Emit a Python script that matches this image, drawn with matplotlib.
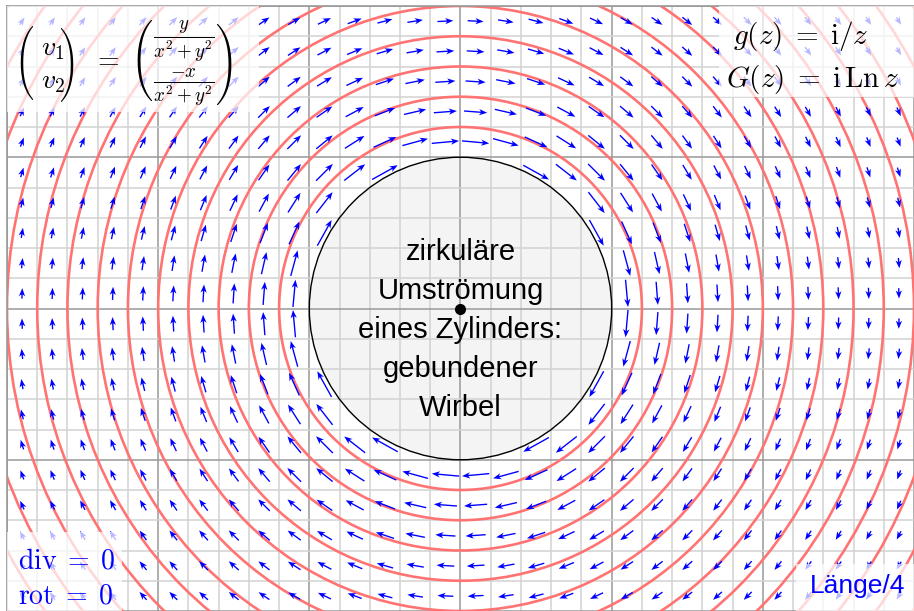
import numpy as np
import matplotlib.pyplot as plt
import matplotlib.transforms as mtransforms
from matplotlib.patches import Circle, Rectangle

plt.rcParams['mathtext.fontset'] = 'cm'

# arrow grid (cell centres, odd tenths)
arrow_x = np.round(np.arange(-2.9, 3.0, 0.2), 1)
arrow_y = np.round(np.arange(-1.9, 2.0, 0.2), 1)
# streamlines Im G = ln r = const drawn as circles
stream_r = [1.2, 1.4, 1.6, 1.8, 2.0, 2.2, 2.4, 2.6, 2.8, 3.0, 3.2, 3.4, 3.6]
cyl_r = 1.0
arrow_scale = 5  # drawn length = |v| / 5

center_text = "zirkuläre\nUmströmung\neines Zylinders:\ngebundener\nWirbel"
frac_a = r'\frac{y}{x^2+y^2}'
frac_b = r'\frac{-x}{x^2+y^2}'


def field(x, y):
    r2 = x**2 + y**2
    return y / r2, -x / r2


W, H = 914, 611
fig = plt.figure(figsize=(W / 100, H / 100), dpi=100)
ax = fig.add_axes([7 / W, 0, 907 / W, 605 / H])
ax.set_xlim(-3, 3)
ax.set_ylim(-2, 2)
# pixel coords measured from the top left corner
pix = mtransforms.Affine2D().scale(1, -1).translate(0, H)
renderer = fig.canvas.get_renderer()

# grid
ax.set_xticks(np.arange(-3, 4, 1))
ax.set_yticks(np.arange(-2, 3, 1))
ax.set_xticks(np.arange(-3, 3.01, 0.2), minor=True)
ax.set_yticks(np.arange(-2, 2.01, 0.2), minor=True)
ax.tick_params(which='both', length=0, labelbottom=False, labelleft=False)
ax.set_axisbelow(True)
ax.grid(which='minor', color='#d2d2d2', lw=1.1)
ax.grid(which='major', color='#999999', lw=1.1)
for s in ['right', 'bottom']:
    ax.spines[s].set_visible(False)
for s in ['left', 'top']:
    ax.spines[s].set_color('#999999')
    ax.spines[s].set_linewidth(1.2)

# cylinder
ax.add_patch(Circle((0, 0), cyl_r, facecolor='#f4f4f4', edgecolor='none', zorder=0.3))
ax.add_patch(Circle((0, 0), cyl_r, facecolor='none', edgecolor='black', lw=1.0, zorder=2.5))

# streamlines
for r in stream_r:
    ax.add_patch(Circle((0, 0), r, facecolor='none', edgecolor='#ff7373', lw=1.9, zorder=2))

# vector field
X, Y = np.meshgrid(arrow_x, arrow_y)
outside = X**2 + Y**2 > cyl_r**2
U, V = field(X[outside], Y[outside])
ax.quiver(X[outside], Y[outside], U, V, pivot='middle', angles='xy',
          scale_units='xy', scale=arrow_scale, color='#0000ff', width=0.0015,
          headwidth=4.6, headlength=6, headaxislength=4.6, zorder=3)

ax.plot(0, 0, 'o', color='black', ms=7, zorder=5)

# translucent boxes behind labels
boxes = [(-3, 1.30, 1.67, 0.7), (1.71, 1.40, 1.29, 0.6),
         (-3, -2, 0.76, 0.52), (2.22, -2, 0.78, 0.31)]
for bx, by, bw, bh in boxes:
    ax.add_patch(Rectangle((bx, by), bw, bh, facecolor='white', alpha=0.72,
                           edgecolor='none', zorder=4))

ax.text(0.0, -0.14, center_text, ha='center', va='center', fontsize=21,
        family='Liberation Sans', linespacing=1.5, zorder=5)


# ---- top left formula, put together in pixel coordinates ----
# narrow stand-in with the same height, only used to size the delimiters
stack = r'\genfrac{}{}{0}{0}{\frac{y}{y^2}}{\frac{x}{y^2}}'


def big_paren(xe, yc, height, side):
    # a mathtext sized "(" ; the right one is the same glyph turned by 180 deg
    s = r'$\left(' + stack + r'\right.$'
    t = fig.text(0, 0, s, fontsize=20, transform=pix)
    fs = 20 * height / t.get_window_extent(renderer).height
    t.set_fontsize(fs)
    bare = fig.text(0, 0, '$' + stack + '$', fontsize=fs, transform=pix)
    pw = t.get_window_extent(renderer).width - bare.get_window_extent(renderer).width
    bare.remove()
    t.set_position((xe, yc))
    t.set_ha('left')
    t.set_va('center')
    t.set_rotation_mode('anchor')
    if side == 'l':
        clip = mtransforms.Bbox.from_extents(xe - 2, 0, xe + pw, H)
    else:
        t.set_rotation(180)
        clip = mtransforms.Bbox.from_extents(xe - pw, 0, xe + 2, H)
    t.set_clip_box(clip)
    t.set_clip_on(True)


big_paren(14, 63.3, 80, 'l')
big_paren(80, 63.3, 80, 'r')
big_paren(130, 61.7, 92, 'l')
big_paren(239, 61.7, 92, 'r')
fig.text(41, 55, r'$v_1$', transform=pix, fontsize=20, ha='left', va='baseline')
fig.text(41, 88, r'$v_2$', transform=pix, fontsize=20, ha='left', va='baseline')
fig.text(106.7, 59, r'$=$', transform=pix, fontsize=20, ha='center', va='center')
# fraction bars sit on the math axis, a few px above the baseline
fig.text(184, 44, '$' + frac_a + '$', transform=pix, fontsize=19.5, ha='center', va='baseline')
fig.text(184, 88, '$' + frac_b + '$', transform=pix, fontsize=19.5, ha='center', va='baseline')

# ---- other labels ----
ax.text(2.25, 1.80, r'$g(z)\;=\;\mathrm{i}/z$', ha='center', va='center',
        fontsize=21, zorder=5)
ax.text(2.33, 1.516, r'$G(z)\;=\;\mathrm{i\,Ln}\,z$', ha='center', va='center',
        fontsize=21, zorder=5)

ax.text(-2.93, -1.665, r'$\mathrm{div}\;=\;0$', ha='left', va='center',
        fontsize=20, color='#0000ff', zorder=5)
ax.text(-2.93, -1.895, r'$\mathrm{rot}\;=\;0$', ha='left', va='center',
        fontsize=20, color='#0000ff', zorder=5)
ax.text(2.31, -1.835, 'Länge/4', ha='left', va='center', fontsize=19,
        family='Liberation Sans', color='#0000ff', zorder=5)

fig.savefig('out.png', dpi=100)
